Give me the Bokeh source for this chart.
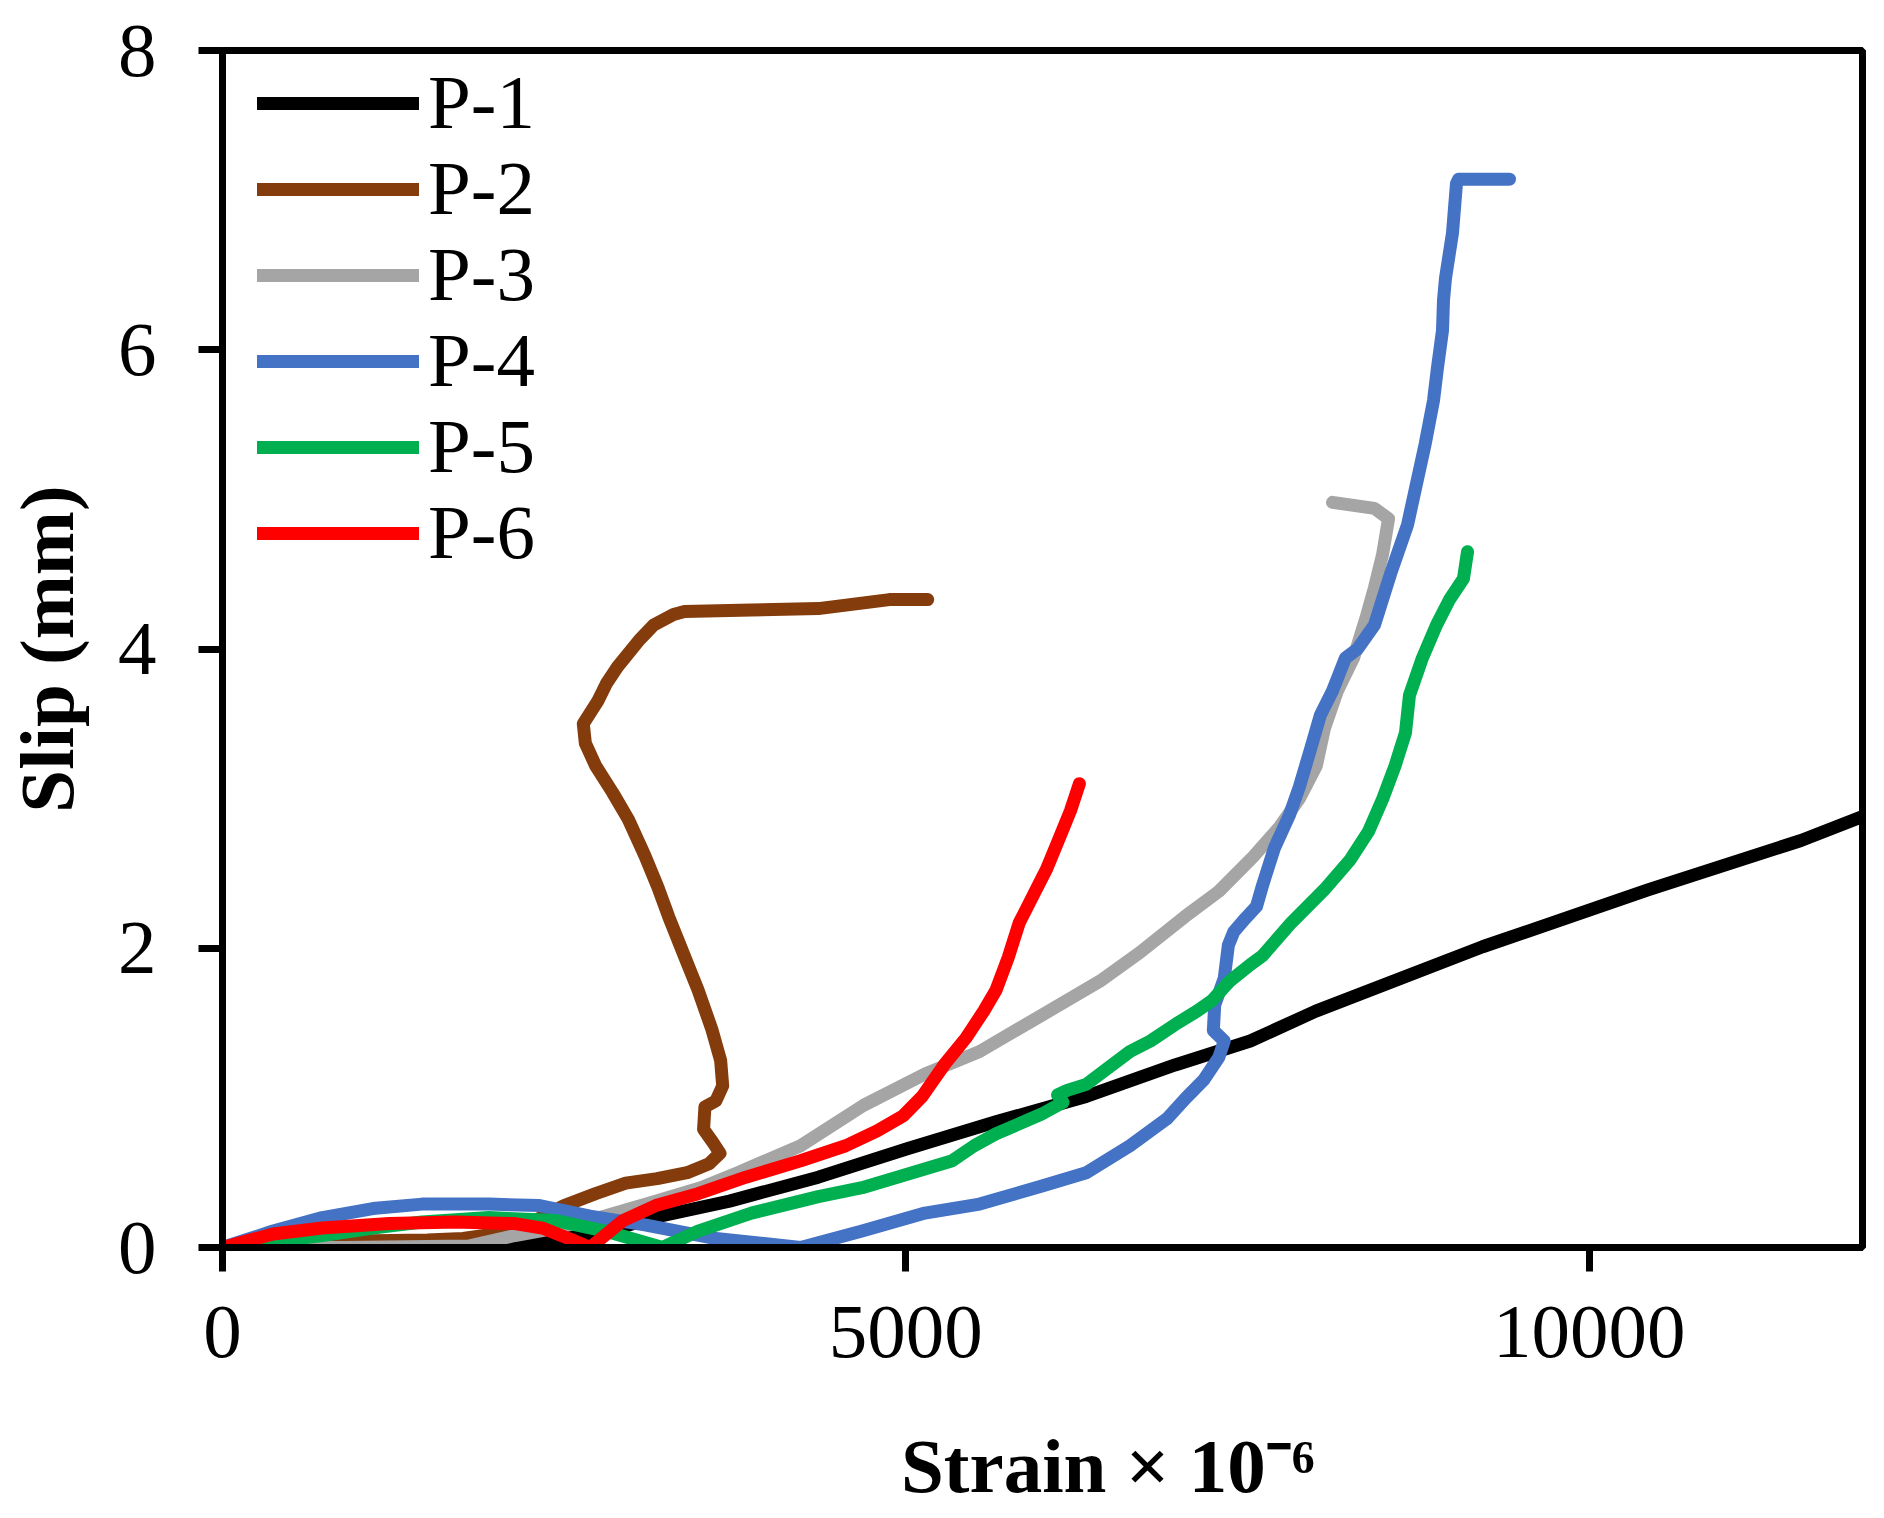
from bokeh.embed import file_html
from bokeh.resources import INLINE
from bokeh.models import ColumnDataSource, Range1d, FixedTicker, Legend, LegendItem
from bokeh.plotting import figure

# Strain (x 10^-6) and slip (mm)
p1_x = [0, 900, 1850, 2200, 2560, 2900, 3150, 3710, 4360, 5010, 5660, 6320,
        6970, 7520, 8000, 9220, 10430, 11550, 12000]
p1_y = [0, 0, 0, 0.03, 0.07, 0.13, 0.20, 0.31, 0.47, 0.66, 0.84, 1.01,
        1.22, 1.38, 1.58, 2.01, 2.39, 2.72, 2.88]

p2_x = [0, 700, 1500, 1760, 2140, 2500, 2730, 2950, 3180, 3400, 3560, 3640,
        3590, 3520, 3530, 3610, 3660, 3645, 3580, 3480, 3370, 3265, 3185,
        3090, 2970, 2855, 2730, 2655, 2640, 2745, 2810, 2890, 3050, 3155,
        3300, 3380, 3870, 4360, 4880, 5160]
p2_y = [0, 0.04, 0.05, 0.06, 0.11, 0.28, 0.36, 0.43, 0.46, 0.50, 0.56, 0.63,
        0.70, 0.79, 0.94, 0.98, 1.08, 1.25, 1.46, 1.72, 1.97, 2.21, 2.41,
        2.62, 2.86, 3.04, 3.22, 3.37, 3.50, 3.65, 3.77, 3.88, 4.06, 4.16,
        4.23, 4.25, 4.26, 4.27, 4.33, 4.33]

p3_x = [0, 900, 1800, 2140, 2440, 2800, 3170, 3500, 3770, 4230, 4690, 5140,
        5540, 5990, 6420, 6710, 7040, 7290, 7540, 7734, 7880, 8004, 8063,
        8158, 8276, 8371, 8429, 8488, 8532, 8429, 8122]
p3_y = [0, 0, 0.01, 0.08, 0.13, 0.21, 0.31, 0.40, 0.50, 0.68, 0.95, 1.16,
        1.31, 1.55, 1.78, 1.97, 2.21, 2.38, 2.61, 2.81, 3.00, 3.22, 3.47,
        3.72, 3.94, 4.22, 4.41, 4.63, 4.87, 4.94, 4.98]

p4_x = [0, 370, 730, 1100, 1460, 1950, 2320, 2690, 3100, 3610, 4230, 4680,
        5140, 5540, 5990, 6320, 6640, 6910, 7050, 7180, 7290, 7330, 7250,
        7260, 7330, 7360, 7400, 7485, 7566, 7610, 7697, 7807, 7880, 7961,
        8034, 8122, 8217, 8305, 8429, 8546, 8671, 8800, 8861, 8890, 8927,
        8934, 8949, 9000, 9029, 9045, 9417]
p4_y = [0, 0.11, 0.20, 0.26, 0.29, 0.29, 0.28, 0.21, 0.15, 0.06, 0, 0.11,
        0.23, 0.29, 0.41, 0.50, 0.68, 0.86, 1.00, 1.12, 1.27, 1.38, 1.45,
        1.62, 1.80, 2.02, 2.11, 2.20, 2.28, 2.42, 2.67, 2.89, 3.08, 3.33,
        3.56, 3.72, 3.94, 4.00, 4.16, 4.50, 4.83, 5.37, 5.66, 5.88, 6.13,
        6.33, 6.48, 6.78, 7.11, 7.14, 7.14]

p5_x = [0, 370, 730, 1100, 1460, 1950, 2440, 2800, 3220, 3480, 3870, 4360,
        4680, 5010, 5340, 5500, 5660, 5990, 6150, 6110, 6180, 6320, 6640,
        6790, 6970, 7130, 7240, 7370, 7520, 7610, 7820, 8060, 8250, 8385,
        8490, 8580, 8656, 8685, 8780, 8883, 8978, 9080, 9110]
p5_y = [0, 0.04, 0.08, 0.13, 0.17, 0.20, 0.18, 0.11, 0, 0.11, 0.23, 0.34,
        0.40, 0.49, 0.58, 0.68, 0.76, 0.89, 0.97, 1.02, 1.05, 1.09, 1.31,
        1.38, 1.49, 1.58, 1.65, 1.78, 1.89, 1.95, 2.17, 2.39, 2.59, 2.78,
        3.00, 3.22, 3.44, 3.69, 3.94, 4.16, 4.33, 4.47, 4.65]

p6_x = [0, 370, 730, 1220, 1700, 2140, 2340, 2560, 2690, 2930, 3170, 3480,
        3830, 4230, 4560, 4790, 4980, 5120, 5280, 5440, 5570, 5660, 5750,
        5830, 5930, 6030, 6125, 6205, 6270]
p6_y = [0, 0.09, 0.13, 0.16, 0.17, 0.16, 0.13, 0.05, 0, 0.18, 0.28, 0.36,
        0.47, 0.58, 0.68, 0.78, 0.88, 1.01, 1.22, 1.40, 1.58, 1.72, 1.94,
        2.17, 2.35, 2.53, 2.74, 2.92, 3.10]

names = ["P-1", "P-2", "P-3", "P-4", "P-5", "P-6"]
colors = ["#000000", "#843C0C", "#A5A5A5", "#4472C4", "#00B050", "#FF0000"]
series = [(p1_x, p1_y), (p2_x, p2_y), (p3_x, p3_y),
          (p4_x, p4_y), (p5_x, p5_y), (p6_x, p6_y)]

x_ticks = [0, 5000, 10000]
y_ticks = [0, 2, 4, 6, 8]

FONT = "Liberation Serif"

p = figure(width=1884, height=1518, output_backend="svg", toolbar_location=None,
           x_range=Range1d(0, 12000), y_range=Range1d(0, 8),
           min_border_left=222, min_border_right=22,
           min_border_top=50, min_border_bottom=271)
p.background_fill_color = "white"
p.border_fill_color = "white"
p.outline_line_color = "black"
p.outline_line_width = 7
p.xgrid.visible = False
p.ygrid.visible = False

for ax, ticks in ((p.xaxis[0], x_ticks), (p.yaxis[0], y_ticks)):
    ax.ticker = FixedTicker(ticks=ticks)
    ax.axis_line_width = 7
    ax.major_tick_line_width = 7
    ax.major_tick_out = 24
    ax.major_tick_in = 0
    ax.minor_tick_line_color = None
    ax.major_label_text_font = FONT
    ax.major_label_text_font_size = "77px"
    ax.major_label_text_color = "black"
    ax.axis_label_text_font = FONT
    ax.axis_label_text_font_style = "bold"
    ax.axis_label_text_font_size = "77px"
    ax.axis_label_text_color = "black"

p.xaxis.major_label_standoff = 35
p.yaxis.major_label_standoff = 42
p.yaxis.axis_label = "Slip (mm)"
p.yaxis.axis_label_standoff = 25
# leading spaces shift the title right, as in the original
p.xaxis.axis_label = "\u2003\u2002\u2009Strain × 10\u207b\u2076"
p.xaxis.axis_label_standoff = 63

renderers = []
for (xs, ys), c in zip(series, colors):
    src = ColumnDataSource(data=dict(x=xs, y=ys))
    r = p.line("x", "y", source=src, line_color=c, line_width=13,
               line_cap="round", line_join="round")
    renderers.append(r)

# one legend box per entry so the row pitch matches the original
for i, (n, r) in enumerate(zip(names, renderers)):
    leg = Legend(items=[LegendItem(label=n, renderers=[r])],
                 location=(35, 1100 - 86 * i), border_line_color=None,
                 background_fill_alpha=0, label_text_font=FONT,
                 label_text_font_size="77px", label_text_color="black",
                 glyph_width=162, glyph_height=86, label_height=86,
                 spacing=0, padding=0, margin=0, label_standoff=9)
    p.add_layout(leg)

open("out.html", "w").write(file_html(p, INLINE))
